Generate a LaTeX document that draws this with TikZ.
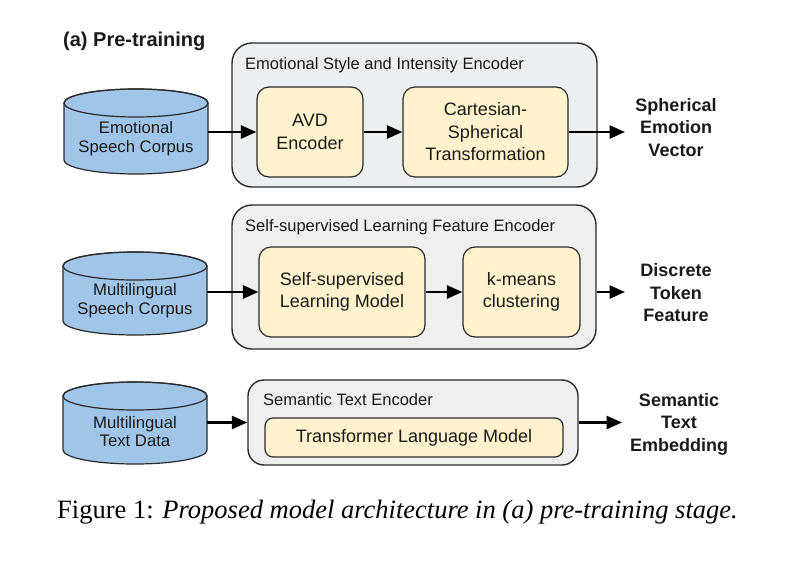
\documentclass[tikz,border=0pt]{standalone}
\usepackage{fontspec}
\setmainfont{Liberation Sans}
\newfontfamily\capfont{Liberation Serif}
\usetikzlibrary{arrows.meta,calc}
\definecolor{cylblue}{HTML}{9FC5E8}
\definecolor{grpA}{HTML}{ECEFF1}
\definecolor{grpB}{HTML}{EFEFEF}
\definecolor{boxY}{HTML}{FFF2CC}
\definecolor{edge}{HTML}{2B2B2B}
\definecolor{ink}{HTML}{1A1A1A}
\newcommand\drawcyl[5]{%
  \path[cyl] ({#1-#4},{#2+#5}) -- ({#1-#4},{#3-#5})
    arc[start angle=180,end angle=360,x radius=#4pt,y radius=#5pt]
    -- ({#1+#4},{#2+#5})
    arc[start angle=0,end angle=180,x radius=#4pt,y radius=#5pt] -- cycle;
  \draw[draw=edge,line width=1.2pt] (#1,{#2+#5}) ellipse[x radius=#4pt,y radius=#5pt];
}
\begin{document}
\begin{tikzpicture}[x=1pt,y=-1pt,
  group/.style={draw=edge, line width=1.4pt, rounded corners=20pt, inner sep=0pt},
  inbox/.style={draw=edge, line width=1.2pt, rounded corners=12pt, fill=boxY, inner sep=0pt,
    align=center, text=ink, font=\fontsize{18}{22.5}\selectfont},
  cyl/.style={draw=edge, line width=1.2pt, fill=cylblue},
  cylbody/.style={inner sep=0pt, minimum width=144pt, minimum height=85pt},
  cyltext/.style={align=center, text=ink, font=\fontsize{16.7}{18.7}\selectfont, inner sep=0pt},
  grptitle/.style={anchor=base west, inner sep=0pt, text=ink, font=\fontsize{16.5}{20}\selectfont},
  outlbl/.style={align=center, text=ink, inner sep=0pt, font=\bfseries\fontsize{18}{22.5}\selectfont},
  flow/.style={line width=2.7pt, draw=black, -{Triangle[length=15.5pt,width=13pt]}},
]
\useasboundingbox[fill=white] (0,0) rectangle (786,560);

% title
\node[anchor=base west, inner sep=0pt, text=ink, font=\bfseries\fontsize{20}{23}\selectfont] (ttl) at (63,46) {(a) Pre-training};

% ---------- row 1
\drawcyl{136}{89}{174}{72}{14}
\node[cylbody] (c1) at (136,131.5) {};
\node[cyltext] (c1t) at (136,139) {Emotional\\Speech Corpus};
\node[group, fill=grpA, minimum width=365pt, minimum height=144pt] (g1) at (414.5,115) {};
\node[grptitle] (g1t) at (245,69.5) {Emotional Style and Intensity Encoder};
\node[inbox, minimum width=106pt, minimum height=90pt] (avd) at (310,132) {AVD\\Encoder};
\node[inbox, minimum width=165pt, minimum height=90pt] (cs) at (485.5,132) {Cartesian-\\Spherical\\Transformation};
\node[outlbl] (o1) at (676,127.5) {Spherical\\Emotion\\Vector};
\coordinate (t1) at (625,132);
\draw[flow] (c1.east |- avd.west) -- (avd.west);
\draw[flow] (avd) -- (cs);
\draw[flow] (cs) -- (t1);

% ---------- row 2
\drawcyl{135}{252}{335}{72}{14}
\node[cylbody, minimum height=83pt] (c2) at (135,293.5) {};
\node[cyltext] (c2t) at (135,300.5) {Multilingual\\Speech Corpus};
\node[group, fill=grpB, minimum width=364pt, minimum height=144pt] (g2) at (414,277) {};
\node[grptitle] (g2t) at (245,231.5) {Self-supervised Learning Feature Encoder};
\node[inbox, minimum width=166pt, minimum height=90pt] (ssl) at (342,292) {Self-supervised\\Learning Model};
\node[inbox, minimum width=117pt, minimum height=90pt] (km) at (521.5,292) {k-means\\clustering};
\node[outlbl] (o2) at (676,293) {Discrete\\Token\\Feature};
\coordinate (t2) at (625,292);
\draw[flow] (c2.east |- ssl.west) -- (ssl.west);
\draw[flow] (ssl) -- (km);
\draw[flow] (g2.east |- km.east) -- (t2);

% ---------- row 3
\drawcyl{135}{382}{464}{72}{14}
\node[cylbody, minimum height=82pt] (c3) at (135,423) {};
\node[cyltext] (c3t) at (135,431.5) {Multilingual\\Text Data};
\node[group, fill=grpB, rounded corners=16pt, minimum width=330pt, minimum height=85pt] (g3) at (413,422.5) {};
\node[grptitle] (g3t) at (263,405) {Semantic Text Encoder};
\node[inbox, rounded corners=8pt, minimum width=298pt, minimum height=39pt] (tr) at (414,437.5) {Transformer Language Model};
\node[outlbl] (o3) at (679,424) {Semantic\\Text\\Embedding};
\coordinate (t3) at (622,422.5);
\draw[flow] (c3.east |- g3.west) -- (g3.west);
\draw[flow] (g3.east) -- (t3);

% caption
\node[anchor=base west, inner sep=0pt, text=black, font=\capfont\fontsize{26.5}{30}\selectfont] (cap) at (57,518)
  {Figure 1: \textit{Proposed model architecture in (a) pre-training stage.}};
\end{tikzpicture}
\end{document}
